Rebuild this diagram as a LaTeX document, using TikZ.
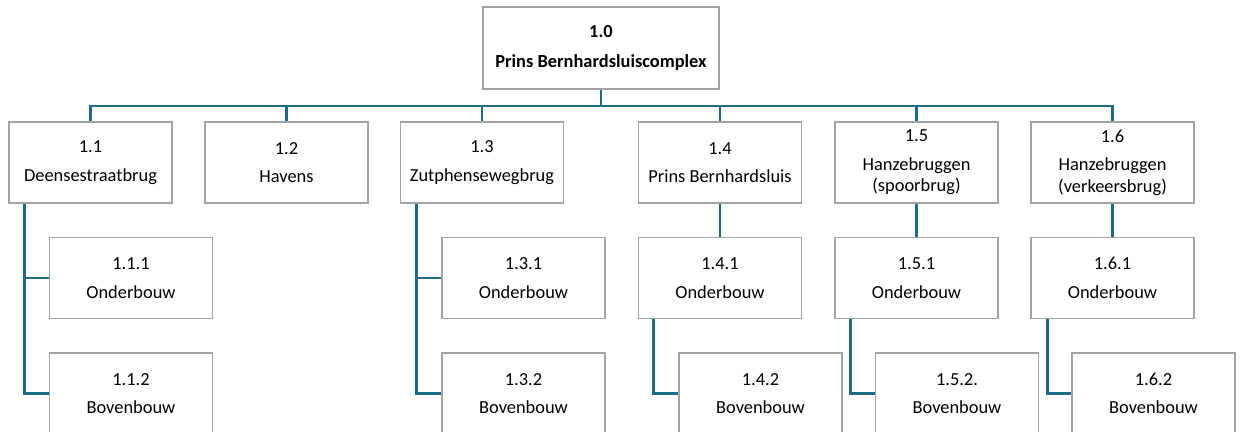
\documentclass[tikz,border=0pt]{standalone}
\usepackage{fontspec}
\setmainfont{Carlito}
\usepackage{tikz}
\definecolor{lijn}{HTML}{1F6B8A}
\definecolor{rand}{HTML}{A3A3A3}

\begin{document}
\begin{tikzpicture}[x=0.5pt,y=-0.5pt,
  box/.style={draw=rand, line width=0.8pt, fill=white, rectangle, inner sep=0pt,
    minimum width=81.5pt, minimum height=40.5pt, align=center,
    font=\fontsize{9.2pt}{10.6pt}\selectfont},
  conn/.style={draw=lijn, line width=1.4pt}]
\useasboundingbox (0,0) rectangle (1240,432);
\node (0) at (601,48) [box, minimum width=118pt, minimum height=41pt, font=\fontsize{9.2pt}{10.6pt}\selectfont\bfseries] {1.0\\[4.4pt]Prins Bernhardsluiscomplex};
\node (1) at (90.5,162.5) [box] {1.1\\[3.7pt]Deensestraatbrug};
\node (2) at (286.5,162.5) [box] {1.2\\[3.7pt]Havens};
\node (3) at (482,162.5) [box] {1.3\\[3.7pt]Zutphensewegbrug};
\node (4) at (720,162.5) [box] {1.4\\[3.7pt]Prins Bernhardsluis};
\node (5) at (916.5,162.5) [box] {1.5\\[3.7pt]Hanzebruggen\\(spoorbrug)};
\node (6) at (1112.5,162.5) [box] {1.6\\[3.7pt]Hanzebruggen\\(verkeersbrug)};
\node (11) at (131,278) [box] {1.1.1\\[3.7pt]Onderbouw};
\node (12) at (131,393.5) [box] {1.1.2\\[3.7pt]Bovenbouw};
\node (31) at (523.5,278) [box] {1.3.1\\[3.7pt]Onderbouw};
\node (32) at (523.5,393.5) [box] {1.3.2\\[3.7pt]Bovenbouw};
\node (41) at (720,278) [box] {1.4.1\\[3.7pt]Onderbouw};
\node (42) at (760.5,393.5) [box] {1.4.2\\[3.7pt]Bovenbouw};
\node (51) at (916.5,278) [box] {1.5.1\\[3.7pt]Onderbouw};
\node (52) at (957,393.5) [box] {1.5.2.\\[3.7pt]Bovenbouw};
\node (61) at (1112.5,278) [box] {1.6.1\\[3.7pt]Onderbouw};
\node (62) at (1153.5,393.5) [box] {1.6.2\\[3.7pt]Bovenbouw};
\coordinate (bus) at (601,106);
\draw[conn] (0) to (bus);
\foreach \n in {1,...,6}
  \draw[conn] (bus) -| (\n);
\draw[conn]
([xshift=8pt]1.south west) |- (11)
([xshift=8pt]1.south west) |- (12)
([xshift=8.5pt]3.south west) |- (31)
([xshift=8.5pt]3.south west) |- (32)
(4) to (41)
(5) to (51)
(6) to (61)
([xshift=8pt]41.south west) |- (42)
([xshift=8pt]51.south west) |- (52)
([xshift=8.5pt]61.south west) |- (62);
\end{tikzpicture}
\end{document}
